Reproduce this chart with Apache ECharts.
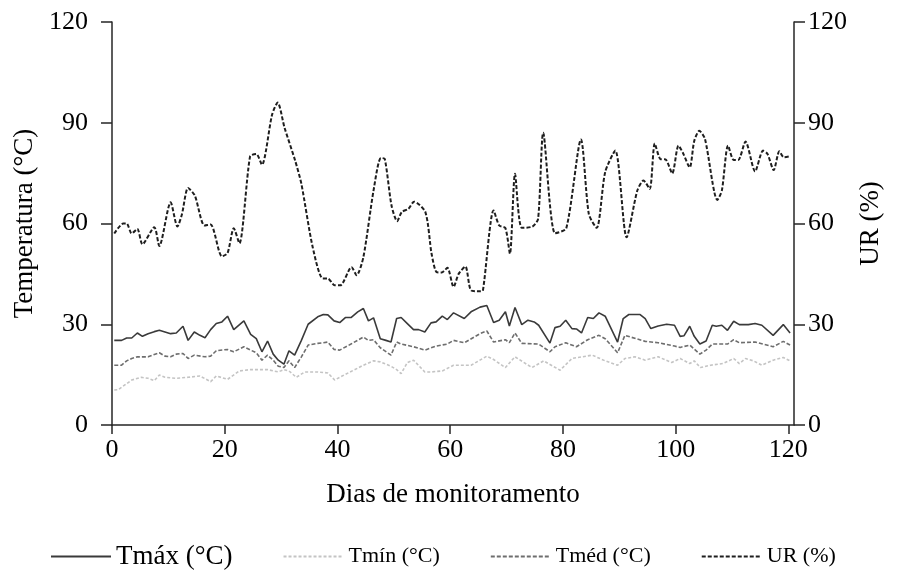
<!DOCTYPE html>
<html>
<head>
<meta charset="utf-8">
<script src="https://cdn.jsdelivr.net/npm/echarts@6/dist/echarts.min.js"></script>
<style>
  html, body { margin: 0; padding: 0; background: #fff; }
  #chart { width: 909px; height: 583px; }
</style>
</head>
<body>
<div id="chart"></div>
<script>
// [day, value] pairs
const tmax = [[0.4,25.2],[1.7,25.2],[2.6,25.9],[3.5,25.9],[4.5,27.4],[5.4,26.4],[6.4,27.2],[7.5,27.8],[8.4,28.2],[9.4,27.7],[10.4,27.2],[11.4,27.4],[12.6,29.4],[13.5,25.2],[14.6,27.7],[15.6,26.7],[16.5,26],[17.5,28.4],[18.5,30.2],[19.5,30.7],[20.5,32.4],[21.6,28.4],[23.4,31],[24.6,27],[25.6,25.7],[26.6,21.8],[27.6,25],[28.6,21.1],[29.5,19.3],[30.5,18.1],[31.4,22.1],[32.4,20.8],[33.6,25.2],[34.8,30],[36.5,32.2],[37.5,32.9],[38.3,32.8],[39.4,31],[40.4,30.5],[41.4,32],[42.4,32],[43.6,33.7],[44.6,34.7],[45.5,31],[46.4,31.9],[47.6,25.7],[48.6,25.2],[49.5,24.7],[50.5,31.7],[51.3,32],[52.4,30.2],[53.5,28.4],[54.4,28.4],[55.5,27.7],[56.6,30.4],[57.5,30.7],[58.6,32.4],[59.5,31.4],[60.6,33.4],[62.5,31.7],[63.7,33.7],[65.3,35.1],[66.5,35.6],[67.7,30.5],[68.7,31.2],[69.8,33.7],[70.5,29.5],[71.5,35],[72.7,29.9],[73.8,31.2],[74.9,30.7],[75.7,29.7],[77.7,24.4],[78.6,29],[79.5,29.4],[80.5,31.2],[81.6,28.7],[82.4,28.6],[83.3,27.4],[84.4,32],[85.4,31.7],[86.4,33.4],[87.5,32.4],[89.7,24.7],[90.7,31.7],[91.7,32.9],[93.7,32.9],[94.6,31.7],[95.6,28.7],[96.9,29.5],[98.4,30],[99.8,29.7],[100.8,26.4],[101.5,26.6],[102.5,29.4],[103.3,26.4],[104.3,24.1],[105.4,25],[106.5,29.7],[107.2,29.4],[108.2,29.7],[109.2,28.2],[110.3,30.9],[111.3,29.9],[112.9,29.9],[114.1,30.2],[115.3,29.7],[117.3,26.7],[119.1,29.9],[120.3,27.4]];

const tmin = [[0.4,10.4],[1.1,10.5],[3.5,13.4],[5.2,14.2],[6.4,13.9],[7.5,13.2],[8.4,14.9],[9.4,14.2],[11.4,13.9],[13.5,14.2],[15.6,14.6],[17.5,12.9],[18.5,14.6],[20.5,13.6],[22.6,16.1],[24.6,16.5],[27.6,16.5],[29.5,15.8],[30.5,16.5],[31.4,16.1],[32.7,14.2],[34.2,15.8],[36.5,15.8],[38.3,15.5],[39.5,13.4],[41.2,14.9],[44.6,17.8],[46.4,19.1],[47.6,18.8],[49.5,17.5],[50.5,16.5],[51.3,15.3],[52.4,18.6],[53.5,19.3],[55.5,15.8],[56.6,15.8],[58.6,16.1],[60.6,17.8],[63.7,17.8],[66.5,20.5],[67.7,19.5],[69.8,17.1],[71.5,20.3],[74.5,17.1],[76.6,19.1],[79.5,16.3],[81.6,19.8],[85.2,20.8],[87.5,19.1],[89.7,17.8],[91,19.8],[92.8,20.3],[94.6,19.3],[96.9,20.3],[99.3,18.6],[100.8,19.8],[102.5,18.3],[103.3,19.1],[104.4,17.1],[106.2,17.8],[108.4,18.3],[110.3,19.8],[111.3,18.3],[112.4,19.8],[113.8,19.1],[115.3,17.8],[117.3,19.3],[119.1,20.1],[120.3,19.1]];

const tmed = [[0.4,17.8],[1.7,17.8],[2.6,19.1],[3.5,19.8],[4.5,20.3],[6.4,20.3],[7.5,21],[8.4,21.5],[9.4,20.5],[10.4,20.3],[11.4,21.1],[12.6,21.3],[13.5,19.8],[14.6,20.8],[16.5,20.3],[17.5,20.5],[18.5,22.1],[20.5,22.5],[21.6,21.8],[23.4,23.3],[24.6,22.3],[25.6,21.5],[26.6,19.3],[27.6,20.8],[28.6,19.3],[29.5,17.5],[30.5,17.1],[31.4,19.1],[32.4,17.1],[33.6,20.3],[34.8,23.8],[36.5,24.3],[37.5,24.5],[38.3,24.7],[39.4,22.5],[40.4,22.3],[42.4,24.1],[44.6,26.2],[45.5,25.2],[46.4,25.4],[47.6,23],[49.5,20.8],[50.5,24.7],[51.3,24.1],[53.5,23.3],[55.5,22.3],[57.5,23.5],[59.5,24.1],[60.6,25.2],[62.5,24.5],[65.3,27.2],[66.5,28],[67.7,24.7],[69.8,25.4],[70.5,24.5],[71.5,27.4],[72.7,24.3],[75.7,24.1],[77.7,21.8],[78.6,23.3],[80.5,24.5],[82.4,23.3],[84.4,25.4],[86.4,26.7],[87.5,25.7],[89.7,21.5],[91,26.7],[94.6,24.9],[96.9,24.5],[99.8,23.5],[100.8,23.1],[102.5,23.8],[104.3,21.1],[105.4,22.3],[106.5,24.1],[109.2,24.1],[110.3,25.4],[111.3,24.5],[114.1,24.7],[117.3,23.3],[119.1,24.9],[120.3,23.8]];

const ur = [[0.4,57],[2,60],[2.6,60],[3.5,57],[4.5,58.4],[5.4,53.8],[7.5,58.9],[8.4,53.3],[10.4,66.3],[11.6,59.1],[12.4,62.7],[13.5,70.6],[14.7,68.3],[16.4,59.4],[17.5,59.7],[19.5,50.2],[20.5,51.2],[21.6,58.6],[22.6,54.1],[24.5,80],[25.6,80.7],[26.6,77.5],[28.4,92.4],[29.4,96],[30.6,88.6],[32.5,78.7],[33.6,71.8],[35.6,53],[37.4,43.6],[38.3,43.6],[39.5,41.6],[40.5,41.6],[42.5,47],[43.4,44.6],[44.6,50],[46.4,69.8],[47.7,79.5],[48.4,79.2],[49.6,65.3],[50.6,60.7],[51.4,63.4],[52.6,64.4],[53.6,66.5],[55.6,63.4],[56.7,51],[57.6,45.5],[58.5,45.4],[59.5,46.8],[60.6,41.1],[61.5,45],[62.7,47.2],[63.7,40.1],[65.3,39.8],[65.8,40],[67.7,63.9],[68.7,59.4],[69.8,58.6],[70.6,51],[71.5,74.8],[72.7,58.7],[74.6,59.1],[75.6,61.4],[76.5,87],[78.6,57.1],[80.6,58.6],[83.2,85],[84.6,62.8],[86,58.7],[87.5,75.3],[89.3,81.7],[91.3,55.9],[93.2,69.8],[94.3,72.8],[95.4,70.3],[96.3,83.8],[97.3,79.2],[98.2,79.1],[99.4,74.9],[100.5,83.2],[101.3,81],[102.5,76.7],[103.3,84.6],[104.2,87.6],[105.2,85.2],[107.4,67],[108.2,69.8],[109.3,83.2],[110.3,78.9],[111.1,78.9],[112.4,84.4],[114.1,75.5],[115.5,81.7],[116.3,80.7],[117.4,75.9],[118.4,81.5],[119.2,79.7],[120.3,80]];

const seriesNames = ['Tmáx (°C)', 'Tmín (°C)', 'Tméd (°C)', 'UR (%)'];

const FONT = '"Liberation Serif", "DejaVu Serif", serif';
const AXIS = '#262626';

const chart = echarts.init(document.getElementById('chart'), null, { renderer: 'canvas' });

const yAxisBase = {
  type: 'value',
  min: 0,
  max: 120,
  interval: 30,
  nameLocation: 'middle',
  nameTextStyle: { fontFamily: FONT, fontSize: 27, color: '#000' },
  axisLine: { show: true, lineStyle: { color: AXIS, width: 1.5 } },
  axisTick: { show: true, length: 11, lineStyle: { color: AXIS, width: 1.5 } },
  axisLabel: { fontFamily: FONT, fontSize: 26, color: '#000', margin: 14 },
  splitLine: { show: false }
};

chart.setOption({
  backgroundColor: '#fff',
  animation: false,
  grid: { left: 112, right: 115, top: 22, bottom: 158 },
  legend: {
    bottom: 8,
    left: 45,
    itemWidth: 60,
    itemHeight: 12,
    itemGap: 50,
    data: seriesNames,
    itemStyle: { opacity: 0 },
    textStyle: {
      fontFamily: FONT,
      color: '#000',
      rich: {
        big: { fontFamily: FONT, fontSize: 27, color: '#000' },
        sm: { fontFamily: FONT, fontSize: 22, color: '#000' }
      }
    },
    formatter: function (name) {
      return name === 'Tmáx (°C)' ? '{big|' + name + '}' : '{sm|' + name + '}';
    }
  },
  xAxis: {
    type: 'value',
    min: 0,
    max: 121,
    interval: 20,
    name: 'Dias de monitoramento',
    nameLocation: 'middle',
    nameGap: 56,
    nameTextStyle: { fontFamily: FONT, fontSize: 27, color: '#000' },
    axisLine: { show: true, onZero: false, lineStyle: { color: AXIS, width: 1.5 } },
    axisTick: { show: true, length: 9, lineStyle: { color: AXIS, width: 1.5 } },
    axisLabel: {
      fontFamily: FONT, fontSize: 26, color: '#000', margin: 12,
      showMaxLabel: false,
      formatter: function (v) { return v % 20 === 0 ? String(v) : ''; }
    },
    splitLine: { show: false }
  },
  yAxis: [
    Object.assign({}, yAxisBase, {
      name: 'Temperatura (°C)', nameGap: 70, position: 'left',
      axisLabel: Object.assign({}, yAxisBase.axisLabel, { margin: 24 })
    }),
    Object.assign({}, yAxisBase, { name: 'UR (%)', nameGap: 60, position: 'right' })
  ],
  series: [
    {
      name: 'Tmáx (°C)', type: 'line', yAxisIndex: 0, data: tmax,
      symbol: 'none', z: 4,
      lineStyle: { color: '#3a3a3a', width: 1.6 },
      itemStyle: { color: '#3a3a3a' }
    },
    {
      name: 'Tmín (°C)', type: 'line', yAxisIndex: 0, data: tmin,
      symbol: 'none', z: 2,
      lineStyle: { color: '#c4c4c4', width: 1.6, type: [3, 2] },
      itemStyle: { color: '#c4c4c4' }
    },
    {
      name: 'Tméd (°C)', type: 'line', yAxisIndex: 0, data: tmed,
      symbol: 'none', z: 3,
      lineStyle: { color: '#6e6e6e', width: 1.6, type: [4, 2] },
      itemStyle: { color: '#6e6e6e' }
    },
    {
      name: 'UR (%)', type: 'line', yAxisIndex: 1, data: ur,
      symbol: 'none', z: 5, smooth: 0.25,
      lineStyle: { color: '#1e1e1e', width: 2, type: [4, 2] },
      itemStyle: { color: '#1e1e1e' }
    }
  ]
});
</script>
</body>
</html>
